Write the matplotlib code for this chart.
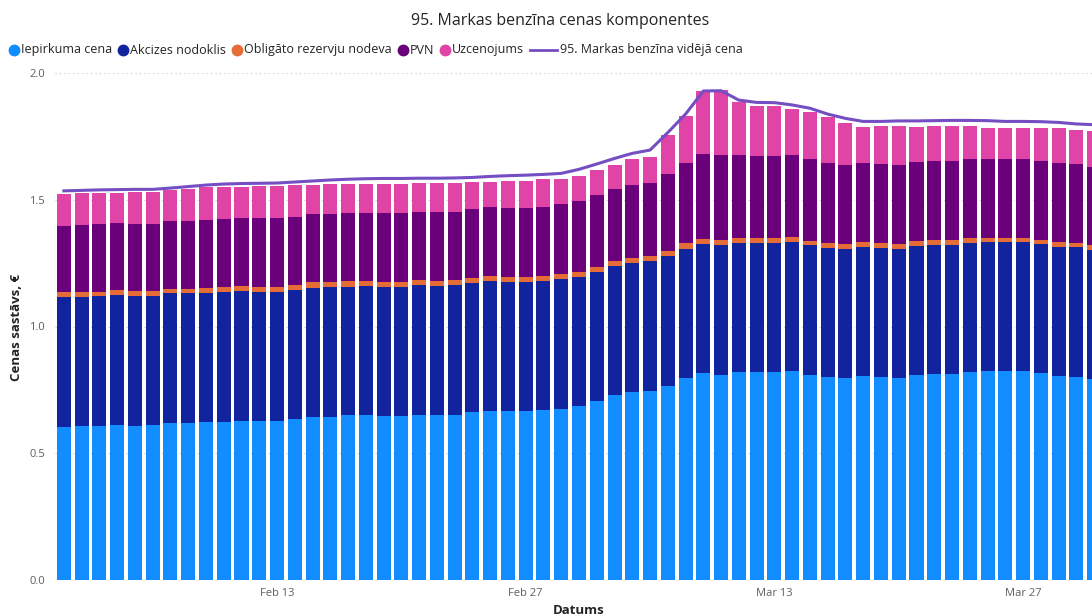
import matplotlib.pyplot as plt
from matplotlib.lines import Line2D
import numpy as np
import pandas as pd

plt.rcParams['font.family'] = ['Open Sans', 'DejaVu Sans']

# dati (EUR par litru), 2022-02-01 .. 2022-03-31
dates = pd.date_range('2022-02-01', '2022-03-31', freq='D')

iepirkuma = [0.605, 0.606, 0.609, 0.613, 0.609, 0.610, 0.619, 0.619, 0.622, 0.625,
             0.628, 0.627, 0.627, 0.634, 0.644, 0.644, 0.650, 0.649, 0.646, 0.646,
             0.652, 0.650, 0.652, 0.661, 0.668, 0.665, 0.665, 0.669, 0.676, 0.688,
             0.706, 0.728, 0.740, 0.747, 0.767, 0.798, 0.815, 0.810, 0.822, 0.821,
             0.821, 0.824, 0.810, 0.801, 0.796, 0.803, 0.801, 0.798, 0.807, 0.814,
             0.813, 0.820, 0.823, 0.823, 0.823, 0.815, 0.805, 0.802, 0.794]
akcizes = [0.510, 0.510, 0.510, 0.511, 0.511, 0.510, 0.512, 0.512, 0.510, 0.510,
           0.511, 0.510, 0.510, 0.510, 0.509, 0.511, 0.507, 0.510, 0.509, 0.510,
           0.511, 0.510, 0.511, 0.511, 0.510, 0.511, 0.511, 0.509, 0.510, 0.509,
           0.510, 0.511, 0.509, 0.510, 0.510, 0.509, 0.509, 0.510, 0.509, 0.507,
           0.508, 0.511, 0.510, 0.510, 0.510, 0.511, 0.509, 0.508, 0.511, 0.508,
           0.509, 0.509, 0.510, 0.509, 0.509, 0.510, 0.509, 0.510, 0.508]
obligato = [0.020, 0.021, 0.019, 0.020, 0.020, 0.020, 0.018, 0.018, 0.020, 0.020,
            0.019, 0.020, 0.020, 0.020, 0.021, 0.020, 0.021, 0.019, 0.019, 0.019,
            0.019, 0.019, 0.019, 0.019, 0.020, 0.019, 0.019, 0.020, 0.020, 0.019,
            0.020, 0.019, 0.020, 0.020, 0.020, 0.021, 0.020, 0.020, 0.019, 0.020,
            0.020, 0.019, 0.019, 0.018, 0.019, 0.019, 0.019, 0.020, 0.019, 0.020,
            0.019, 0.020, 0.018, 0.019, 0.019, 0.018, 0.019, 0.018, 0.019]
pvn = [0.263, 0.263, 0.265, 0.264, 0.264, 0.264, 0.266, 0.268, 0.268, 0.269,
       0.269, 0.270, 0.270, 0.269, 0.271, 0.270, 0.271, 0.271, 0.272, 0.271,
       0.271, 0.271, 0.271, 0.274, 0.272, 0.274, 0.274, 0.273, 0.276, 0.278,
       0.282, 0.284, 0.289, 0.289, 0.305, 0.318, 0.335, 0.337, 0.327, 0.325,
       0.324, 0.321, 0.321, 0.317, 0.312, 0.311, 0.311, 0.311, 0.312, 0.311,
       0.311, 0.312, 0.311, 0.310, 0.310, 0.310, 0.311, 0.310, 0.309]
uzcenojums = [0.123, 0.125, 0.125, 0.120, 0.127, 0.127, 0.122, 0.125, 0.129, 0.128,
              0.125, 0.127, 0.127, 0.124, 0.114, 0.116, 0.114, 0.114, 0.118, 0.118,
              0.113, 0.116, 0.114, 0.104, 0.101, 0.106, 0.106, 0.110, 0.101, 0.101,
              0.101, 0.094, 0.102, 0.104, 0.153, 0.184, 0.251, 0.256, 0.210, 0.198,
              0.197, 0.182, 0.188, 0.179, 0.164, 0.143, 0.150, 0.154, 0.138, 0.136,
              0.137, 0.128, 0.122, 0.121, 0.121, 0.130, 0.139, 0.136, 0.142]
videja_cena = [1.535, 1.537, 1.539, 1.540, 1.541, 1.541, 1.546, 1.552, 1.558, 1.562,
               1.564, 1.565, 1.566, 1.570, 1.574, 1.578, 1.581, 1.583, 1.584, 1.584,
               1.585, 1.585, 1.586, 1.588, 1.592, 1.595, 1.597, 1.600, 1.604, 1.620,
               1.641, 1.663, 1.683, 1.696, 1.765, 1.838, 1.929, 1.930, 1.893, 1.884,
               1.883, 1.874, 1.861, 1.838, 1.821, 1.809, 1.809, 1.811, 1.811, 1.812,
               1.813, 1.813, 1.812, 1.809, 1.809, 1.808, 1.805, 1.799, 1.796]

labels = ['Iepirkuma cena', 'Akcizes nodoklis', 'Obligāto rezervju nodeva', 'PVN', 'Uzcenojums']
line_label = '95. Markas benzīna vidējā cena'
series = [iepirkuma, akcizes, obligato, pvn, uzcenojums]
colors = ['#118DFF', '#12239E', '#E66C37', '#6B007B', '#E044A7']
line_color = '#744EC2'
text_dark = '#252423'
text_gray = '#605E5C'

W, H = 1092, 616
fig = plt.figure(figsize=(W / 100, H / 100), dpi=100)
# plot area continues past the right edge of the picture (cropped visual)
ax = fig.add_axes([55 / W, (H - 580) / H, 1048 / W, 507 / H])

x = np.arange(len(dates))
bottom = np.zeros(len(dates))
for vals, col in zip(series, colors):
    ax.bar(x, vals, width=0.79, bottom=bottom, color=col, linewidth=0, zorder=2)
    bottom += np.array(vals)
ax.plot(x, videja_cena, color=line_color, lw=2.2, zorder=3, solid_joinstyle='round')

ax.set_xlim(-0.5, len(dates) - 0.5)
ax.set_ylim(0, 2.0)
ax.set_yticks([0, 0.5, 1.0, 1.5, 2.0])
ax.set_yticklabels([f'{v:.1f}' for v in [0, 0.5, 1.0, 1.5, 2.0]])
tick_idx = [i for i, d in enumerate(dates) if d.day in (13, 27)]
ax.set_xticks(tick_idx)
ax.set_xticklabels([f'{dates[i]:%b} {dates[i].day}' for i in tick_idx])
ax.tick_params(length=0, colors=text_gray, labelsize=8)
ax.tick_params(axis='y', pad=7)
ax.tick_params(axis='x', pad=6)
ax.grid(axis='y', color='#C8C6C4', linestyle=(0, (1, 3)), lw=0.8)
ax.set_axisbelow(True)
for s in ax.spines.values():
    s.set_visible(False)

# virsraksts un asu nosaukumi
fig.text(560 / W, 1 - 21 / H, '95. Markas benzīna cenas komponentes',
         ha='center', va='center', fontsize=11.5, color=text_dark)
fig.text(17 / W, 1 - 327 / H, 'Cenas sastāvs, €', rotation=90, ha='center', va='center',
         fontsize=9.5, fontweight='bold', color=text_dark)
fig.text(579 / W, 1 - 610 / H, 'Datums', ha='center', va='center',
         fontsize=9.5, fontweight='bold', color=text_dark)

# leģenda
renderer = fig.canvas.get_renderer()
ly = 1 - 50 / H
lx = 14
for lab, col in zip(labels, colors):
    fig.add_artist(Line2D([lx / W], [ly], marker='o', markersize=7.5, color=col,
                          linestyle='none', transform=fig.transFigure))
    t = fig.text((lx + 7) / W, ly, lab, ha='left', va='center', fontsize=9, color=text_dark)
    lx = t.get_window_extent(renderer).x1 + 11
lx -= 5
fig.add_artist(Line2D([lx / W, (lx + 27) / W], [ly, ly], color=line_color, lw=2,
                      transform=fig.transFigure))
fig.text((lx + 30) / W, ly, line_label, ha='left', va='center', fontsize=9, color=text_dark)

fig.savefig('out.png', dpi=100, facecolor='white')
